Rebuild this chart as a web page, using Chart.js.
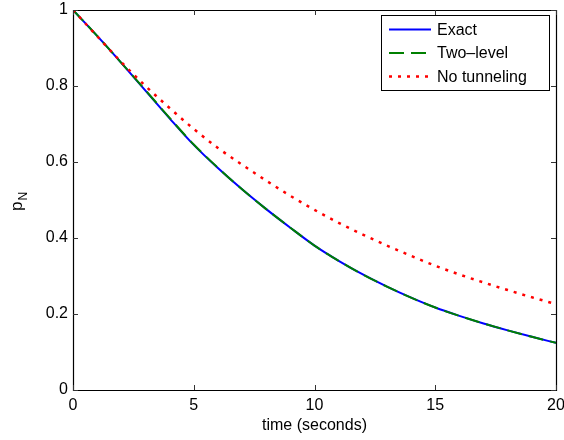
<!DOCTYPE html>
<html><head><meta charset="utf-8">
<script src="https://cdn.jsdelivr.net/npm/chart.js@4/dist/chart.umd.min.js"></script>
<style>html,body{margin:0;padding:0;background:#fff;}#wrap{width:564px;height:440px;}</style>
</head><body><div id="wrap"><canvas id="c" width="564" height="440"></canvas></div>
<script>
const times = [0,1,2,3,4,5,6,7,8,9,10,11,12,13,14,15,16,17,18,19,20];
const exact = [1.000,0.932,0.861,0.788,0.715,0.645,0.584,0.528,0.476,0.427,0.380,0.340,0.304,0.272,0.243,0.217,0.195,0.175,0.157,0.140,0.124];
const twoLevel = [1.000,0.932,0.861,0.789,0.716,0.646,0.585,0.528,0.476,0.427,0.380,0.340,0.304,0.272,0.243,0.217,0.195,0.175,0.157,0.140,0.124];
const noTunneling = [1.000,0.931,0.863,0.800,0.742,0.687,0.637,0.593,0.551,0.511,0.474,0.440,0.409,0.380,0.353,0.327,0.304,0.283,0.263,0.244,0.226];
const xTicks = [0,5,10,15,20];
const yTicks = [0,0.2,0.4,0.6,0.8,1];
const seriesNames = ['Exact','Two\u2013level','No tunneling'];
const xTitle = 'time (seconds)';
const yTitleMain = 'p';
const yTitleSub = 'N';

const FONT = "'Liberation Sans', Arial, Helvetica, sans-serif";
const pts = arr => times.map((t,i)=>({x:t,y:arr[i]}));

const framePlugin = {
  id:'frame',
  afterDatasetsDraw(chart){
    const {ctx, chartArea:ca, scales} = chart;
    ctx.save();
    ctx.strokeStyle = '#000';
    ctx.lineWidth = 1.2;
    ctx.beginPath();
    ctx.rect(Math.round(ca.left)+0.5, Math.round(ca.top)+0.5, Math.round(ca.right-ca.left), Math.round(ca.bottom-ca.top));
    ctx.stroke();
    ctx.strokeStyle = '#333';
    ctx.lineWidth = 1;
    ctx.beginPath();
    xTicks.forEach(v=>{
      const px = Math.round(scales.x.getPixelForValue(v))+0.5;
      ctx.moveTo(px, ca.bottom); ctx.lineTo(px, ca.bottom-5);
      ctx.moveTo(px, ca.top); ctx.lineTo(px, ca.top+5);
    });
    yTicks.forEach(v=>{
      const py = Math.round(scales.y.getPixelForValue(v))+0.5;
      ctx.moveTo(ca.left, py); ctx.lineTo(ca.left+5, py);
      ctx.moveTo(ca.right, py); ctx.lineTo(ca.right-5, py);
    });
    ctx.stroke();
    ctx.restore();
  },
  afterDraw(chart){
    const {ctx, chartArea:ca} = chart;
    const L = ca.right - 175, T = ca.top + 5, W = 168, H = 75;
    ctx.save();
    ctx.fillStyle = '#fff';
    ctx.fillRect(L, T, W, H);
    ctx.strokeStyle = '#000';
    ctx.lineWidth = 1;
    ctx.strokeRect(Math.round(L)+0.5, Math.round(T)+0.5, W, H);
    chart.data.datasets.forEach((ds,i)=>{
      const y = T + 14.5 + i*23.5;
      ctx.strokeStyle = ds.borderColor;
      ctx.lineWidth = ds.borderWidth;
      ctx.setLineDash(ds.borderDash || []);
      ctx.beginPath();
      ctx.moveTo(L+8, y); ctx.lineTo(L+50, y);
      ctx.stroke();
      ctx.setLineDash([]);
      ctx.fillStyle = '#000';
      ctx.font = '16px ' + FONT;
      ctx.textBaseline = 'middle';
      ctx.textAlign = 'left';
      ctx.fillText(ds.label, L+56, y+1);
    });
    ctx.translate(22, 211);
    ctx.rotate(-Math.PI/2);
    ctx.fillStyle = '#000';
    ctx.textAlign = 'left';
    ctx.textBaseline = 'alphabetic';
    ctx.font = '17px ' + FONT;
    ctx.fillText(yTitleMain, 0, 0);
    const w = ctx.measureText(yTitleMain).width;
    ctx.font = '12px ' + FONT;
    ctx.fillText(yTitleSub, w+1, 5);
    ctx.restore();
  }
};

new Chart(document.getElementById('c'), {
  type:'line',
  data:{
    datasets:[
      {label:seriesNames[0], data:pts(exact), borderColor:'#0000ff', borderWidth:2, pointRadius:0, cubicInterpolationMode:'monotone', order:2},
      {label:seriesNames[1], data:pts(twoLevel), borderColor:'#008000', borderWidth:2, borderDash:[15,7], pointRadius:0, cubicInterpolationMode:'monotone', order:1},
      {label:seriesNames[2], data:pts(noTunneling), borderColor:'#ff0000', borderWidth:2.5, borderDash:[3,6], pointRadius:0, cubicInterpolationMode:'monotone', order:0}
    ]
  },
  options:{
    responsive:false,
    devicePixelRatio:1,
    animation:false,
    layout:{padding:{left:0, top:10, right:8, bottom:0}},
    plugins:{legend:{display:false}, tooltip:{enabled:false}},
    scales:{
      x:{
        type:'linear', min:0, max:20,
        afterBuildTicks(s){ s.ticks = xTicks.map(v=>({value:v})); },
        ticks:{font:{size:16, family:FONT}, color:'#000', padding:6, maxRotation:0, autoSkip:false},
        grid:{display:false, drawTicks:false},
        border:{display:false},
        title:{display:true, text:xTitle, color:'#000', font:{size:16, family:FONT}, padding:{top:0, bottom:5}},
        afterFit(s){ s.height = 50; s.paddingLeft = 0; s.paddingRight = 0; }
      },
      y:{
        type:'linear', min:0, max:1,
        afterBuildTicks(s){ s.ticks = yTicks.map(v=>({value:v})); },
        ticks:{font:{size:16, family:FONT}, color:'#000', padding:5, autoSkip:false, callback:v=>String(v)},
        grid:{display:false, drawTicks:false},
        border:{display:false},
        afterFit(s){ s.width = 73; s.paddingTop = 0; s.paddingBottom = 0; }
      }
    }
  },
  plugins:[framePlugin]
});
</script></body></html>
